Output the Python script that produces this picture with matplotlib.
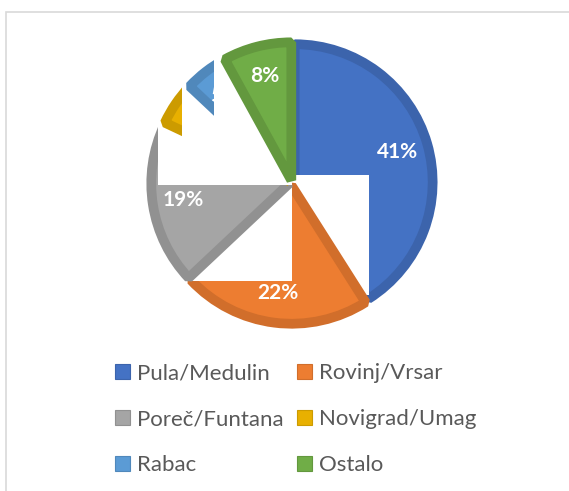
import matplotlib.pyplot as plt
from matplotlib.patches import Patch, Rectangle
from matplotlib.colors import to_rgb

plt.rcParams["font.family"] = ["Lato", "DejaVu Sans"]

# data
regions = ["Pula/Medulin", "Rovinj/Vrsar", "Poreč/Funtana", "Novigrad/Umag", "Rabac", "Ostalo"]
shares = [41, 22, 19, 5, 5, 8]
colors = ["#4472C4", "#ED7D31", "#A5A5A5", "#E8B000", "#5B9BD5", "#70AD47"]


def darker(c, f=0.88):
    return tuple(v * f for v in to_rgb(c))


edges = [darker(c) for c in colors]

W, H = 569, 491
fig = plt.figure(figsize=(W / 100, H / 100), dpi=100)

# pie axes: center at (292, 183) px from top-left, radius 1 = R px
R = 138
cx, cy = 292, 183
half = 160
ax = fig.add_axes([(cx - half) / W, (H - cy - half) / H, 2 * half / W, 2 * half / H])
ax.axis("off")

wedges, texts, autotexts = ax.pie(
    shares, colors=colors, startangle=90, counterclock=False,
    explode=[0.02] * len(shares), autopct="%1.0f%%", pctdistance=0.78,
    textprops=dict(color="white", fontsize=15, fontweight="bold"),
    wedgeprops=dict(linewidth=7, joinstyle="bevel"),
)
ax.set_xlim(-half / R, half / R)
ax.set_ylim(-half / R, half / R)

for i, (w, e) in enumerate(zip(wedges, edges)):
    w.set_edgecolor(e)
    w.set_clip_path(w)  # keep only the inner half of the border band
    w.set_zorder(1 + 2 * i)
    autotexts[i].set_zorder(1.5 + 2 * i)

# white blank boxes seen inside some slices of the original rendering
blanks = {
    0: (0.0, -0.814, 0.557, 0.871),
    1: (-0.764, -0.707, 0.764, 0.693),
    2: (-0.97, -0.014, 0.97, 0.47),
    3: (-0.8, -0.014, 0.8, 1.2),
    4: (-0.564, -0.014, 0.564, 1.2),
}
for i, (x0, y0, w_, h_) in blanks.items():
    ax.add_patch(Rectangle((x0, y0), w_, h_, facecolor="white", edgecolor="none",
                           zorder=2 + 2 * i))

# chart area border
fig.add_artist(Rectangle((6 / W, -0.1), 1.2, 1.1 - 12 / H, transform=fig.transFigure,
                         facecolor="none", edgecolor="#D9D9D9", linewidth=1.2))

handles = [Patch(facecolor=c, edgecolor=e, linewidth=0.8) for c, e in zip(colors, edges)]
legend_kw = dict(loc="upper left", frameon=False, fontsize=16, handlelength=0.68,
                 handleheight=0.68, handletextpad=0.3, labelspacing=1.17,
                 borderpad=0, borderaxespad=0)
for col, x0 in enumerate([115, 297]):
    idx = [col, col + 2, col + 4]
    leg = fig.legend([handles[i] for i in idx], [regions[i] for i in idx],
                     bbox_to_anchor=(x0 / W, 1 - 363 / H), **legend_kw)
    for t in leg.get_texts():
        t.set_color("#595959")

fig.savefig("out.png", dpi=100)
